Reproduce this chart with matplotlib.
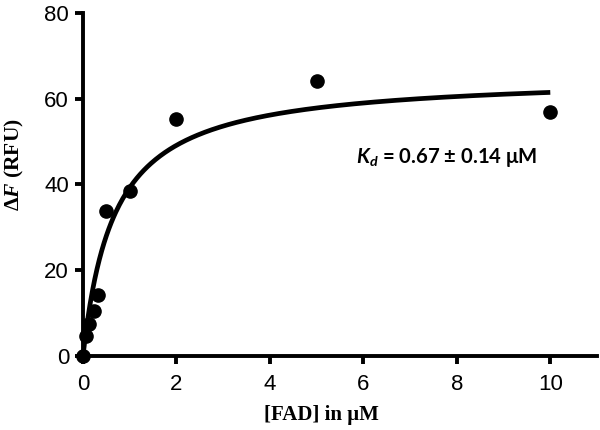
import numpy as np
import matplotlib
matplotlib.use("Agg")
import matplotlib.pyplot as plt

# Data
fad_uM = [0.0, 0.06, 0.125, 0.23, 0.32, 0.5, 1.0, 2.0, 5.0, 10.0]
delta_f = [0.0, 4.6, 7.5, 10.6, 14.2, 33.9, 38.5, 55.2, 64.2, 57.0]
x_ticks = [0, 2, 4, 6, 8, 10]
y_ticks = [0, 20, 40, 60, 80]

# One-site binding fit parameters
kd = 0.67
bmax = 65.6

plt.rcParams['mathtext.fontset'] = 'custom'
plt.rcParams['mathtext.rm'] = 'Liberation Serif:bold'
plt.rcParams['mathtext.it'] = 'Liberation Serif:italic:bold'
plt.rcParams['mathtext.bf'] = 'Liberation Serif:bold'
plt.rcParams['mathtext.bfit'] = 'Lato:italic:bold'

fig = plt.figure(figsize=(6, 4.3), dpi=100)
ax = fig.add_axes([83/600, (430-356)/430, (597-83)/600, (356-13)/430])

xf = np.linspace(0, 10, 400)
ax.plot(xf, bmax * xf / (kd + xf), color='black', lw=3.4, solid_capstyle='butt', zorder=2)
ax.plot(fad_uM, delta_f, 'o', color='black', ms=9.5, zorder=3, clip_on=False)

ax.set_xlim(0, 11)
ax.set_ylim(0, 80)
ax.set_xticks(x_ticks)
ax.set_yticks(y_ticks)
for s in ['top', 'right']:
    ax.spines[s].set_visible(False)
for s in ['left', 'bottom']:
    ax.spines[s].set_linewidth(2.8)
ax.tick_params(width=2.8, length=6, labelsize=16)
ax.tick_params(axis='x', pad=7)
ax.tick_params(axis='y', pad=4)
for lab in ax.get_xticklabels() + ax.get_yticklabels():
    lab.set_fontfamily('Liberation Sans')

ax.set_xlabel('[FAD] in μM', fontfamily='Liberation Serif', fontweight='bold', fontsize=15)
ax.set_ylabel(r'$\Delta\mathit{F}$ (RFU)', fontfamily='Liberation Serif', fontweight='bold', fontsize=15.5)
ax.xaxis.set_label_coords(0.463, -0.143)
ax.yaxis.set_label_coords(-0.110, 0.557)

ax.text(5.85, 46.3, r'$\mathbfit{K}_\mathbfit{d}$ = 0.67 ± 0.14 μM', fontfamily='Lato', fontweight='bold',
        fontsize=14.6, ha='left', va='center')

fig.savefig('out.png', dpi=100)
